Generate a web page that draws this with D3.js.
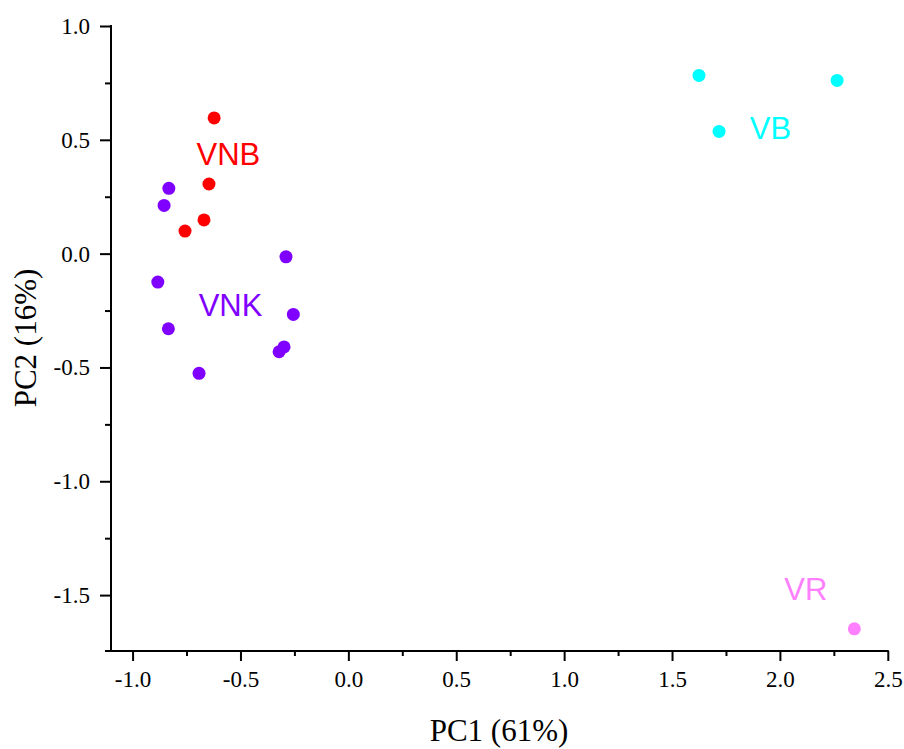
<!DOCTYPE html>
<html>
<head>
<meta charset="utf-8">
<script src="https://cdn.jsdelivr.net/npm/d3@7"></script>
<style>
  body { margin: 0; background: #fff; }
  svg { display: block; }
</style>
</head>
<body>
<svg id="chart" width="904" height="749"></svg>
<script>
// PCA scores
var groups = ["VNB", "VNK", "VB", "VR"];
var colors = ["#ff0000", "#7f00ff", "#00ffff", "#ff80ff"];

var vnbX = [-0.622, -0.646, -0.669, -0.757];
var vnbY = [0.596, 0.306, 0.148, 0.099];

var vnkX = [-0.832, -0.854, -0.289, -0.883, -0.255, -0.834, -0.321, -0.298, -0.692];
var vnkY = [0.287, 0.212, -0.014, -0.125, -0.267, -0.330, -0.431, -0.410, -0.526];

var vbX = [1.625, 2.265, 1.718];
var vbY = [0.783, 0.761, 0.537];

var vrX = [2.345];
var vrY = [-1.648];

// where each group name sits (data units)
var labelX = [-0.556, -0.546, 1.956, 2.12];
var labelY = [0.389, -0.274, 0.502, -1.522];

var xTicks = [-1.0, -0.5, 0.0, 0.5, 1.0, 1.5, 2.0, 2.5];
var yTicks = [1.0, 0.5, 0.0, -0.5, -1.0, -1.5];

var seriesX = [vnbX, vnkX, vbX, vrX];
var seriesY = [vnbY, vnkY, vbY, vrY];

var svg = d3.select("#chart");

var x = d3.scaleLinear().domain([-1.1, 2.5]).range([111, 887.8]);
var y = d3.scaleLinear().domain([-1.75, 1.0]).range([652, 26]);

var f1 = d3.format(".1f");
var fmt = function(d) { return f1(d).replace("\u2212", "-"); };
var serif = "'Liberation Serif', 'Times New Roman', serif";

// minor ticks
var xMinor = [];
for (var i = 0; i < xTicks.length - 1; i++) xMinor.push((xTicks[i] + xTicks[i + 1]) / 2);
var yMinor = [];
for (var j = 0; j < yTicks.length - 1; j++) yMinor.push((yTicks[j] + yTicks[j + 1]) / 2);

var xAxisG = svg.append("g").attr("transform", "translate(0,651)");
xAxisG.call(d3.axisBottom(x).tickValues(xMinor).tickSize(5).tickFormat(""));
xAxisG.append("g").call(d3.axisBottom(x).tickValues(xTicks).tickSize(10).tickPadding(10).tickFormat(fmt));

var yAxisG = svg.append("g").attr("transform", "translate(111,0)");
yAxisG.call(d3.axisLeft(y).tickValues(yMinor).tickSize(6).tickFormat(""));
yAxisG.append("g").call(d3.axisLeft(y).tickValues(yTicks).tickSize(11).tickPadding(10).tickFormat(fmt));

svg.selectAll(".domain").remove();
svg.selectAll(".tick line").attr("stroke", "#000").attr("stroke-width", 2);
svg.selectAll(".tick text")
  .attr("fill", "#000")
  .style("font-family", serif)
  .style("font-size", "23px");

// axis lines
svg.append("line")
  .attr("x1", 105).attr("x2", x(2.5) + 1)
  .attr("y1", 651).attr("y2", 651)
  .attr("stroke", "#000").attr("stroke-width", 2);
svg.append("line")
  .attr("x1", 111).attr("x2", 111)
  .attr("y1", y(1.0) - 1).attr("y2", 652)
  .attr("stroke", "#000").attr("stroke-width", 2);

// points
for (var g = 0; g < groups.length; g++) {
  var pts = seriesX[g].map(function(v, k) { return [v, seriesY[g][k]]; });
  svg.append("g").selectAll("circle")
    .data(pts)
    .enter().append("circle")
    .attr("cx", function(d) { return x(d[0]); })
    .attr("cy", function(d) { return y(d[1]); })
    .attr("r", 6.5)
    .style("fill", colors[g]);

  svg.append("text")
    .attr("x", x(labelX[g]))
    .attr("y", y(labelY[g]))
    .attr("text-anchor", "middle")
    .style("font-family", "'Liberation Sans', Arial, sans-serif")
    .style("font-size", "31px")
    .style("fill", colors[g])
    .text(groups[g]);
}

// axis titles
svg.append("text")
  .attr("x", 499).attr("y", 741)
  .attr("text-anchor", "middle")
  .style("font-family", serif)
  .style("font-size", "31px")
  .text("PC1 (61%)");

svg.append("text")
  .attr("transform", "translate(36,338) rotate(-90)")
  .attr("text-anchor", "middle")
  .style("font-family", serif)
  .style("font-size", "31px")
  .text("PC2 (16%)");
</script>
</body>
</html>
